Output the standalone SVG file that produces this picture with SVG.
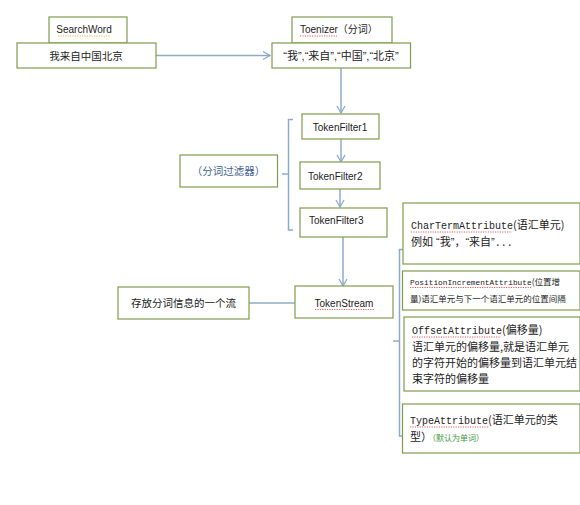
<svg xmlns="http://www.w3.org/2000/svg" width="580" height="505" viewBox="0 0 580 505">
<style>
.box{fill:#ffffff;stroke:#7f9c4d;stroke-width:1.2}
.con{fill:none;stroke:#8eaacb;stroke-width:1.5}
.t{font-family:"Liberation Sans","Noto Sans CJK SC",sans-serif;font-size:10px;fill:#222}
.c{font-family:"Noto Sans CJK SC","Liberation Sans",sans-serif;font-size:10.5px;fill:#222}
.q{font-family:"Liberation Sans","Noto Sans CJK SC",sans-serif;font-size:11px;fill:#222}
.m{font-family:"Liberation Mono","Noto Sans CJK SC",monospace;font-size:10px;fill:#222}
.ms{font-family:"Liberation Mono","Noto Sans CJK SC",monospace;font-size:7.8px;fill:#222}
.w{fill:none;stroke:#d33;stroke-width:0.8;stroke-dasharray:1.2 1.2}
.wo{fill:none;stroke:#d9a020;stroke-width:0.8;stroke-dasharray:1.2 1.2}
</style>
<defs>
<marker id="arr" markerWidth="10" markerHeight="10" refX="8" refY="5" orient="auto" markerUnits="userSpaceOnUse">
<polyline points="1,1 8,5 1,9" fill="none" stroke="#8eaacb" stroke-width="1.3"/>
</marker>
</defs>
<rect width="580" height="505" fill="#ffffff"/>
<g id="connectors">
<line class="con" x1="156" y1="55.5" x2="270" y2="55.5" marker-end="url(#arr)"/>
<line class="con" x1="341" y1="68" x2="341" y2="113" marker-end="url(#arr)"/>
<line class="con" x1="341" y1="139" x2="341" y2="162" marker-end="url(#arr)"/>
<line class="con" x1="340" y1="189" x2="340" y2="207" marker-end="url(#arr)"/>
<line class="con" x1="343" y1="237" x2="343" y2="286" marker-end="url(#arr)"/>
<line class="con" x1="249" y1="303" x2="295" y2="303"/>
<path class="con" d="M293,119.5 H288.5 V230 H293 M282,174 H288.5"/>
<path class="con" d="M403,249.5 H399.5 V436 H403 M393,341 H399.5"/>
</g>
<g id="searchword">
<rect class="box" x="49" y="17" width="78" height="26"/>
<text class="t" x="84" y="33" text-anchor="middle">SearchWord</text>
<line class="wo" x1="58" y1="36" x2="110" y2="36"/>
</g>
<g id="input">
<rect class="box" x="17" y="43" width="139" height="25"/>
<text class="c" x="86" y="59.5" text-anchor="middle">我来自中国北京</text>
</g>
<g id="tokenizer">
<rect class="box" x="292" y="17" width="100" height="26"/>
<text class="t" x="300" y="33">Toenizer（分词）</text>
<line class="w" x1="300" y1="36" x2="337" y2="36"/>
</g>
<g id="tokens">
<rect class="box" x="272" y="43" width="138.5" height="25"/>
<text class="q" x="341" y="60" text-anchor="middle">“我”,“来自”,“中国”,“北京”</text>
</g>
<g id="tokenfilter1">
<rect class="box" x="302" y="114" width="77" height="25"/>
<text class="t" x="340" y="130.5" text-anchor="middle">TokenFilter1</text>
</g>
<g id="tokenfilter2">
<rect class="box" x="300" y="162" width="80" height="27"/>
<text class="t" x="308" y="180">TokenFilter2</text>
</g>
<g id="tokenfilter3">
<rect class="box" x="300" y="208" width="87" height="29"/>
<text class="t" x="309" y="224">TokenFilter3</text>
</g>
<g id="filterlabel">
<rect class="box" x="180" y="155" width="97.5" height="32"/>
<text class="c" x="228.5" y="175" text-anchor="middle" style="fill:#3f5f8f">（分词过滤器）</text>
</g>
<g id="tokenstream">
<rect class="box" x="295" y="286" width="98" height="32"/>
<text class="t" x="344" y="306.5" text-anchor="middle">TokenStream</text>
<line class="w" x1="315" y1="309.5" x2="374" y2="309.5"/>
</g>
<g id="streamlabel">
<rect class="box" x="118" y="287" width="131" height="32"/>
<text class="c" x="183.5" y="307" text-anchor="middle">存放分词信息的一个流</text>
</g>
<g id="chartermattribute">
<rect class="box" x="403" y="203" width="177" height="61"/>
<text class="m" x="411" y="229">CharTermAttribute<tspan class="c" style="font-size:11px">(语汇单元)</tspan></text>
<line class="w" x1="411" y1="232" x2="512" y2="232"/>
<text class="q" x="411" y="246">例如 “我”，“来自”<tspan class="m">...</tspan></text>
</g>
<g id="positionincrementattribute">
<rect class="box" x="402.5" y="271" width="177.5" height="39"/>
<text class="ms" x="410" y="285">PositionIncrementAttribute<tspan class="c" style="font-size:8.5px">(位置增</tspan></text>
<line class="w" x1="410" y1="287.5" x2="532" y2="287.5"/>
<text class="c" x="410" y="302" style="font-size:8.5px">量)语汇单元与下一个语汇单元的位置间隔</text>
</g>
<g id="offsetattribute">
<rect class="box" x="404" y="317" width="176" height="74"/>
<text class="m" x="412" y="334">OffsetAttribute<tspan class="c" style="font-size:11px">(偏移量)</tspan></text>
<line class="w" x1="412" y1="337" x2="501" y2="337"/>
<text class="c" x="412" y="351" style="font-size:11px">语汇单元的偏移量,就是语汇单元</text>
<text class="c" x="412" y="367" style="font-size:11px">的字符开始的偏移量到语汇单元结</text>
<text class="c" x="412" y="383" style="font-size:11px">束字符的偏移量</text>
</g>
<g id="typeattribute">
<rect class="box" x="402.5" y="404" width="177.5" height="49"/>
<text class="m" x="410" y="424">TypeAttribute<tspan class="c" style="font-size:11px">(语汇单元的类</tspan></text>
<line class="w" x1="410" y1="427" x2="488" y2="427"/>
<text class="c" x="410" y="441" style="font-size:11px">型）<tspan style="font-size:8px;fill:#3a9a3a">（默认为单词）</tspan></text>
</g>
</svg>
